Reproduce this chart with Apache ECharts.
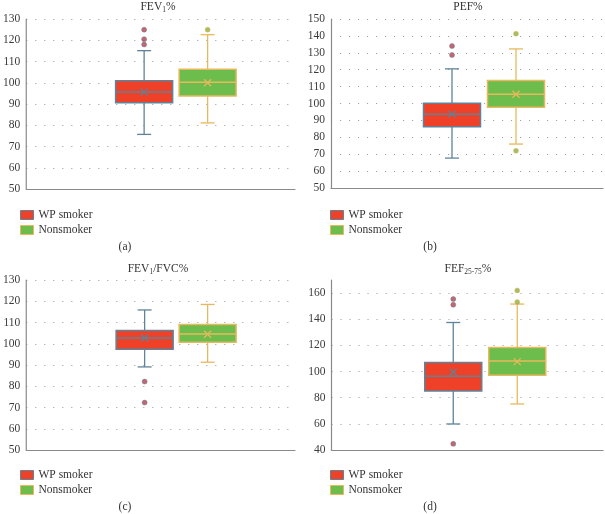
<!DOCTYPE html>
<html><head><meta charset="utf-8">
<script src="https://cdn.jsdelivr.net/npm/echarts@6/dist/echarts.min.js"></script>
<style>html,body{margin:0;padding:0;background:#fff}#c{width:605px;height:514px}</style>
</head><body><div id="c"></div>
<script>
const groups = ['WP smoker', 'Nonsmoker'];
// box stats: [min, Q1, median, Q3, max, mean]
const fev1Smoker = [75.7, 90.6, 95.6, 101.0, 115.1, 95.6];
const fev1Non    = [81.1, 93.8, 100.2, 106.3, 122.6, 100.0];
const fev1SmokerOut = [125, 120.5, 118];
const fev1NonOut    = [125];

const pefSmoker = [67.7, 86.2, 93.7, 100.2, 120.5, 93.7];
const pefNon    = [76.0, 97.8, 105.5, 113.6, 132.3, 105.5];
const pefSmokerOut = [134, 128.7];
const pefNonOut    = [141.3, 72];

const ratioSmoker = [89.1, 97.4, 102.7, 106.2, 115.9, 102.7];
const ratioNon    = [91.3, 100.7, 104.6, 109.1, 118.5, 104.5];
const ratioSmokerOut = [82.2, 72.3];
const ratioNonOut    = [];

const fefSmoker = [59.9, 85.2, 96.4, 106.9, 137.5, 99.5];
const fefNon    = [75.2, 97.2, 108.1, 118.4, 151.6, 107.6];
const fefSmokerOut = [155.4, 151.1, 44.7];
const fefNonOut    = [162, 153.1];

const yTicksA = [50, 60, 70, 80, 90, 100, 110, 120, 130];
const yTicksB = [50, 60, 70, 80, 90, 100, 110, 120, 130, 140, 150];
const yTicksC = [50, 60, 70, 80, 90, 100, 110, 120, 130];
const yTicksD = [40, 60, 80, 100, 120, 140, 160];

const panelTitles = ['FEV{s|1}%', 'PEF%', 'FEV{s|1}/FVC%', 'FEF{s|25-75}%'];
const captions = ['(a)', '(b)', '(c)', '(d)'];

const SERIF = '"Liberation Serif", "DejaVu Serif", serif';
const RED = '#ee4128', RED_LINE = '#5f8399';
const GREEN = '#6cbd4c', GREEN_LINE = '#e8b85e';
const OUT_RED = '#b5404a', OUT_GREEN = '#8fae3e';

const panels = [
  {box: [fev1Smoker, fev1Non], out: [fev1SmokerOut, fev1NonOut], ticks: yTicksA, min: 50, max: 130, interval: 10,
   grid: {left: 21, top: 19, width: 274, height: 170}, off: [-16.5, 47], titleX: 158, titleY: 0,
   legend: {left: 15, top: 204}, cap: {x: 125, y: 241}},
  {box: [pefSmoker, pefNon], out: [pefSmokerOut, pefNonOut], ticks: yTicksB, min: 50, max: 150, interval: 10,
   grid: {left: 331, top: 19, width: 272, height: 169}, off: [-15, 49], titleX: 468, titleY: 1,
   legend: {left: 325, top: 204}, cap: {x: 430, y: 241}},
  {box: [ratioSmoker, ratioNon], out: [ratioSmokerOut, ratioNonOut], ticks: yTicksC, min: 50, max: 130, interval: 10,
   grid: {left: 21.5, top: 280, width: 273.5, height: 170}, off: [-16, 47], titleX: 158, titleY: 262,
   legend: {left: 15, top: 464}, cap: {x: 125, y: 501}},
  {box: [fefSmoker, fefNon], out: [fefSmokerOut, fefNonOut], ticks: yTicksD, min: 40, max: 170, interval: 20,
   grid: {left: 331.5, top: 280, width: 271.5, height: 170}, off: [-14, 50], titleX: 468, titleY: 262,
   legend: {left: 325, top: 464}, cap: {x: 430, y: 501}}
];

const BOXW = 57, CAPW = 14;

function makeRender(off, fill, line) {
  return function (params, api) {
    const base = api.coord([0, api.value(1)]);
    const x = base[0] + off;
    const y = i => api.coord([0, api.value(i)])[1];
    const ymin = y(1), yq1 = y(2), ymed = y(3), yq3 = y(4), ymax = y(5), ymean = y(6);
    const h = BOXW / 2, ch = CAPW / 2, m = 3.5;
    const ls = {stroke: line, lineWidth: 1.3};
    return {
      type: 'group',
      children: [
        {type: 'line', shape: {x1: x, y1: ymax, x2: x, y2: ymin}, style: ls},
        {type: 'line', shape: {x1: x - ch, y1: ymax, x2: x + ch, y2: ymax}, style: ls},
        {type: 'line', shape: {x1: x - ch, y1: ymin, x2: x + ch, y2: ymin}, style: ls},
        {type: 'rect', shape: {x: x - h, y: yq3, width: BOXW, height: yq1 - yq3},
         style: {fill: fill, stroke: line, lineWidth: 1.5}},
        {type: 'line', shape: {x1: x - h, y1: ymed, x2: x + h, y2: ymed}, style: {stroke: line, lineWidth: 1.5}},
        {type: 'line', shape: {x1: x - m, y1: ymean - m, x2: x + m, y2: ymean + m}, style: ls},
        {type: 'line', shape: {x1: x - m, y1: ymean + m, x2: x + m, y2: ymean - m}, style: ls}
      ]
    };
  };
}

const option = {
  animation: false,
  backgroundColor: '#fff',
  title: [], grid: [], xAxis: [], yAxis: [], legend: [], series: []
};

const fills = [RED, GREEN], lines = [RED_LINE, GREEN_LINE], outs = [OUT_RED, OUT_GREEN];

panels.forEach((p, pi) => {
  option.title.push({
    text: panelTitles[pi], left: p.titleX, top: p.titleY, textAlign: 'center', padding: 0,
    textStyle: {fontFamily: SERIF, fontSize: 11.5, fontWeight: 'normal', color: '#333',
      rich: {s: {fontFamily: SERIF, fontSize: 7.5, color: '#333', padding: [6, 0, 0, 0]}}}
  });
  option.title.push({
    text: captions[pi], left: p.cap.x, top: p.cap.y, textAlign: 'center', padding: 0,
    textStyle: {fontFamily: SERIF, fontSize: 11.5, fontWeight: 'normal', color: '#333'}
  });
  option.grid.push(Object.assign({containLabel: false}, p.grid));
  option.xAxis.push({
    type: 'category', gridIndex: pi, data: [''], boundaryGap: true,
    axisLine: {show: true, lineStyle: {color: '#8a8a8a', width: 1.2}},
    axisTick: {show: false}, axisLabel: {show: false}, splitLine: {show: false}
  });
  option.yAxis.push({
    type: 'value', gridIndex: pi, min: p.min, max: p.max, interval: p.interval,
    axisLine: {show: true, lineStyle: {color: '#8a8a8a', width: 1.2}},
    axisTick: {show: false, customValues: p.ticks},
    axisLabel: {customValues: p.ticks, margin: 6, fontFamily: SERIF, fontSize: 11.5, color: '#3a3a3a'},
    splitLine: {show: true, lineStyle: {color: '#a0a0a0', width: 1.1, type: [1.1, 7.9]}}
  });
  option.legend.push({
    left: p.legend.left, top: p.legend.top, orient: 'vertical', icon: 'rect',
    itemWidth: 13, itemHeight: 9, itemGap: 3, selectedMode: false,
    textStyle: {fontFamily: SERIF, fontSize: 11.5, color: '#333'},
    data: groups.map((g, gi) => ({name: g, itemStyle: {color: fills[gi], borderColor: lines[gi], borderWidth: 1}}))
  });
  groups.forEach((g, gi) => {
    option.series.push({
      type: 'custom', name: g, xAxisIndex: pi, yAxisIndex: pi,
      itemStyle: {color: fills[gi]},
      encode: {x: 0, y: [1, 2, 3, 4, 5, 6]},
      renderItem: makeRender(p.off[gi], fills[gi], lines[gi]),
      data: [[0].concat(p.box[gi])]
    });
    option.series.push({
      type: 'scatter', name: g, xAxisIndex: pi, yAxisIndex: pi,
      symbol: 'circle', symbolSize: 5, symbolOffset: [p.off[gi], 0], clip: false,
      itemStyle: {color: outs[gi], borderColor: lines[gi], borderWidth: 0.6},
      data: p.out[gi].map(v => [0, v])
    });
  });
});

const chart = echarts.init(document.getElementById('c'), null, {renderer: 'canvas'});
chart.setOption(option);
</script>
</body></html>
